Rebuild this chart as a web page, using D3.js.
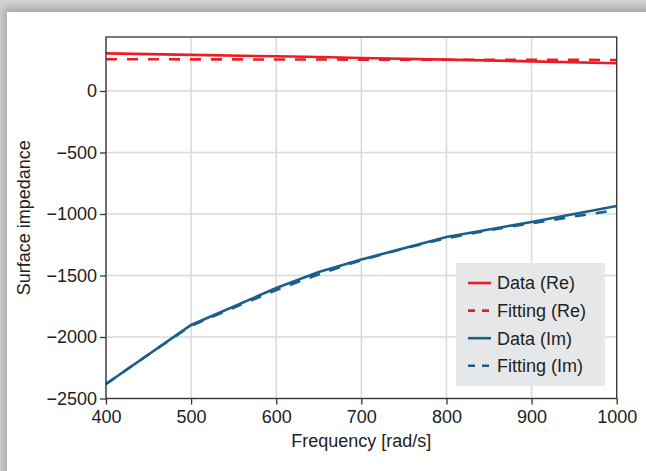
<!DOCTYPE html>
<html>
<head>
<meta charset="utf-8">
<script src="https://cdn.jsdelivr.net/npm/d3@7"></script>
<style>
  body { margin: 0; background: #fff; }
  svg { display: block; font-family: "Liberation Sans", Arial, sans-serif; }
</style>
</head>
<body>
<svg width="646" height="471"></svg>
<script>
// values
const dataFreq = [400, 500, 600, 650, 700, 800, 900, 1000];
const dataRe = [306, 294, 282, 276, 268, 255, 241, 226];
const dataIm = [-2382, -1902, -1602, -1472, -1370, -1187, -1065, -935];

const fitFreq = [400, 450, 500, 550, 600, 650, 700, 750, 800, 850, 900, 950, 1000];
const fitRe = [258, 258, 257, 257, 256, 256, 255, 255, 254, 254, 253, 253, 252];
const fitIm = [-2382, -2142, -1908, -1762, -1618, -1490, -1375, -1280, -1197, -1132, -1075, -1020, -968];

const xTicks = [400, 500, 600, 700, 800, 900, 1000];
const yTicks = [0, -500, -1000, -1500, -2000, -2500];

const legendItems = [
    { label: 'Data (Re)', color: '#ec1c24', dash: null },
    { label: 'Fitting (Re)', color: '#ec1c24', dash: '7,7' },
    { label: 'Data (Im)', color: '#1b5e8c', dash: null },
    { label: 'Fitting (Im)', color: '#1b5e8c', dash: '7,7' }
];

const svg = d3.select('svg');

// grey frame with soft shadow round the white panel
const defs = svg.append('defs');
defs.append('filter')
    .attr('id', 'blur')
    .attr('x', '-10%').attr('y', '-10%')
    .attr('width', '120%').attr('height', '120%')
    .append('feGaussianBlur')
    .attr('stdDeviation', 4);

svg.append('rect')
    .attr('width', 646).attr('height', 471)
    .attr('fill', '#d4d4d4');
svg.append('rect')
    .attr('x', 3).attr('y', 7)
    .attr('width', 660).attr('height', 480)
    .attr('fill', '#a8a8a8')
    .attr('filter', 'url(#blur)');
svg.append('rect')
    .attr('x', 7).attr('y', 12)
    .attr('width', 650).attr('height', 470)
    .attr('fill', '#fff');

const mLeft = 106, mRight = 616.7, mTop = 37, mBottom = 398.5;

const x = d3.scaleLinear().domain([400, 1000]).range([mLeft, mRight]);
const y = d3.scaleLinear().domain([-2500, 439]).range([mBottom, mTop]);

// grid
svg.append('g')
    .selectAll('line')
    .data(xTicks)
    .enter()
    .append('line')
    .attr('x1', d => x(d)).attr('x2', d => x(d))
    .attr('y1', mTop).attr('y2', mBottom)
    .attr('stroke', '#d9d9d9')
    .attr('stroke-width', 1.5);

svg.append('g')
    .selectAll('line')
    .data(yTicks)
    .enter()
    .append('line')
    .attr('x1', mLeft).attr('x2', mRight)
    .attr('y1', d => y(d)).attr('y2', d => y(d))
    .attr('stroke', '#d9d9d9')
    .attr('stroke-width', 1.5);

// lines
const plot = svg.append('g');
const line = d3.line().x(d => x(d[0])).y(d => y(d[1]));

const series = [
    { xs: dataFreq, ys: dataRe, color: '#ec1c24', dash: null },
    { xs: fitFreq, ys: fitRe, color: '#ec1c24', dash: '11,10' },
    { xs: dataFreq, ys: dataIm, color: '#1b5e8c', dash: null },
    { xs: fitFreq, ys: fitIm, color: '#1b5e8c', dash: '11,10' }
];

series.forEach(s => {
    plot.append('path')
        .datum(s.xs.map((f, i) => [f, s.ys[i]]))
        .attr('d', line)
        .attr('fill', 'none')
        .attr('stroke', s.color)
        .attr('stroke-width', 2.6)
        .attr('stroke-dasharray', s.dash);
});

// axes
const fmt = d => (d < 0 ? '\u2212' + Math.abs(d) : String(d));

const xAxis = svg.append('g')
    .attr('transform', `translate(0,${mBottom})`)
    .call(d3.axisBottom(x).tickValues(xTicks).tickFormat(fmt).tickSizeOuter(0).tickSize(6).tickPadding(6));

const yAxis = svg.append('g')
    .attr('transform', `translate(${mLeft},0)`)
    .call(d3.axisLeft(y).tickValues(yTicks).tickFormat(fmt).tickSizeOuter(0).tickSize(6).tickPadding(3));

[xAxis, yAxis].forEach(a => {
    a.select('.domain').remove();
    a.selectAll('line').attr('stroke', '#333').attr('stroke-width', 1.3);
    a.selectAll('text')
        .attr('font-size', 18)
        .attr('font-family', '"Liberation Sans", Arial, sans-serif')
        .attr('fill', '#222');
});

// frame
svg.append('rect')
    .attr('x', mLeft).attr('y', mTop)
    .attr('width', mRight - mLeft).attr('height', mBottom - mTop)
    .attr('fill', 'none')
    .attr('stroke', '#333')
    .attr('stroke-width', 1.3);

svg.append('text')
    .attr('x', (mLeft + mRight) / 2)
    .attr('y', 447)
    .attr('text-anchor', 'middle')
    .attr('font-size', 18)
    .attr('fill', '#222')
    .text('Frequency [rad/s]');

svg.append('text')
    .attr('transform', `translate(30,${(mTop + mBottom) / 2}) rotate(-90)`)
    .attr('text-anchor', 'middle')
    .attr('font-size', 18)
    .attr('fill', '#222')
    .text('Surface impedance');

// legend
const legend = svg.append('g');
legend.append('rect')
    .attr('x', 456).attr('y', 263)
    .attr('width', 149).attr('height', 123)
    .attr('fill', '#e6e7e9');

const rows = legend.selectAll('g.row')
    .data(legendItems)
    .enter()
    .append('g')
    .attr('class', 'row')
    .attr('transform', (d, i) => `translate(0,${283 + i * 27.6})`);

rows.append('line')
    .attr('x1', 468).attr('x2', 491)
    .attr('stroke', d => d.color)
    .attr('stroke-width', 2.6)
    .attr('stroke-dasharray', d => d.dash);

rows.append('text')
    .attr('x', 497)
    .attr('dy', '0.35em')
    .attr('font-size', 18)
    .attr('fill', '#222')
    .text(d => d.label);
</script>
</body>
</html>
